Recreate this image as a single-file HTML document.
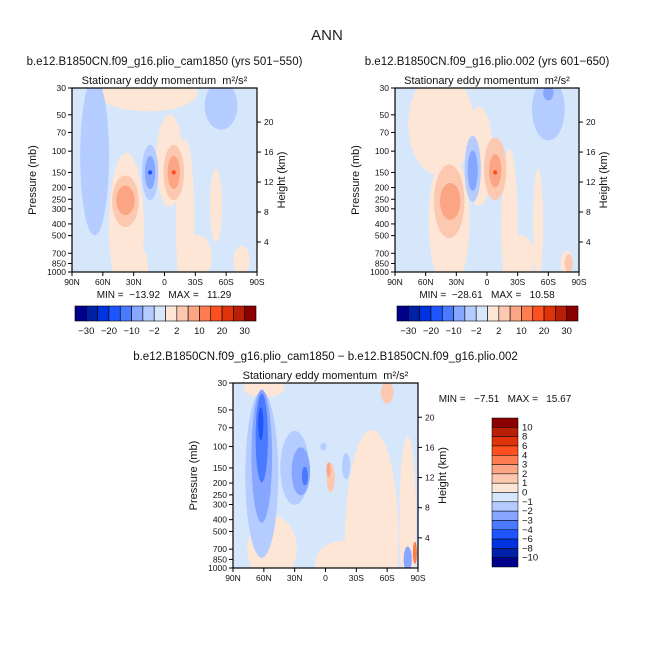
<!DOCTYPE html>
<html><head><meta charset="utf-8">
<style>
body{margin:0;background:#fff;}
svg{display:block;font-family:"Liberation Sans",sans-serif;}
text{white-space:pre;}
</style></head>
<body>
<svg id="s" width="654" height="654" viewBox="0 0 654 654">
<text x="327" y="40" text-anchor="middle" font-size="15" fill="#222">ANN</text>
</svg>
<script>
const palette=['#00008b','#0020a8','#0033e0','#1f55ff','#4a7aff','#86a6ff','#b4ccff','#d6e6fb','#fde6d6','#fcc8b0','#fba585','#fd7d50','#fd4f1f','#e03309','#b81f06','#8b0000'];
const latTicks=[90,60,30,0,-30,-60,-90];
const latLabels=['90N','60N','30N','0','30S','60S','90S'];
const presTicks=[30,50,70,100,150,200,250,300,400,500,700,850,1000];
const kmTicks=[4,8,12,16,20];
const topBarLabels=['-30','-20','-10','-2','2','10','20','30'];
const diffBarLabels=['10','8','6','4','3','2','1','0','-1','-2','-3','-4','-6','-8','-10'];
// blobs: [lat, pressure(mb), half-width(deg), half-height(fraction of axis), colour index]
const blobsA=[[16,33,48,0.1,8],[-5,120,13,0.25,8],[37,420,17,0.4,8],[30,900,14,0.12,8],[-20,380,9,0.45,8],[-50,280,6,0.2,8],[-32,750,14,0.12,8],[-75,800,8,0.08,8],
 [68,110,14,0.43,6],[-55,42,16,0.13,6],[14,150,8,0.15,6],[14,150,5,0.09,5],[14,150,2,0.012,3],
 [38,260,13,0.14,9],[38,255,9,0.08,10],[-9,150,10,0.15,9],[-9,150,6,0.09,10],[-9,150,2,0.012,12]];
const blobsB=[[45,60,32,0.28,8],[37,380,20,0.38,8],[8,110,14,0.27,8],[-22,420,8,0.42,8],[-50,400,5,0.3,8],[-33,760,14,0.12,8],[-78,850,6,0.07,8],
 [-60,45,16,0.17,6],[-60,33,5,0.04,5],[14,140,8,0.18,6],[14,145,5,0.11,5],
 [37,260,15,0.2,9],[36,260,10,0.1,10],[-8,140,11,0.17,9],[-8,145,6,0.09,10],[-8,150,2,0.012,12],[-80,850,4,0.05,9]];
const blobsC=[[-45,600,26,0.6,8],[-20,900,30,0.12,8],[-80,400,8,0.45,8],[52,700,24,0.18,8],[-60,36,6,0.06,9],[-5,180,4,0.08,9],[-3,155,2,0.04,10],[60,33,20,0.05,8],
 [62,170,16,0.45,6],[62,120,10,0.36,5],[62,85,6,0.24,4],[63,65,2.5,0.09,3],
 [30,150,14,0.2,6],[24,160,9,0.13,5],[20,175,3,0.05,4],[-20,145,4,0.07,6],[2,100,3,0.02,6],[-80,850,4,0.07,5],[-87,750,2,0.06,11]];

const svg=document.getElementById('s');
const NS='http://www.w3.org/2000/svg';
function mk(tag,at,parent){const e=document.createElementNS(NS,tag);for(const k in at)e.setAttribute(k,at[k]);(parent||svg).appendChild(e);return e;}
function txt(x,y,s,size,anchor,parent){const t=mk('text',{x:x,y:y,'font-size':size,'text-anchor':anchor||'middle',fill:'#111'},parent);t.textContent=s;return t;}

function panel(name,x0,y0,W,H,blobs,title){
  const g=mk('g',{});
  
  
  const xs=lat=>x0+(90-lat)/180*W;
  const ys=p=>y0+H*Math.log(p/30)/Math.log(1000/30);
  const clipId=name+'-clip';
  const cp=mk('clipPath',{id:clipId},g);mk('rect',{x:x0,y:y0,width:W,height:H},cp);
  const field=mk('g',{'clip-path':'url(#'+clipId+')'},g);
  
  
  mk('rect',{x:x0,y:y0,width:W,height:H,fill:palette[7]},field);
  for(const b of blobs){
    const e=mk('ellipse',{cx:xs(b[0]),cy:ys(b[1]),rx:b[2]/180*W,ry:b[3]*H,fill:palette[b[4]]},field);
    
    
  }
  mk('rect',{x:x0,y:y0,width:W,height:H,fill:'none',stroke:'#000','stroke-width':1.2},g);
  latTicks.forEach((l,i)=>{const x=xs(l);mk('line',{x1:x,x2:x,y1:y0+H,y2:y0+H+4,stroke:'#000'},g);
    const t=txt(x,y0+H+13,latLabels[i],8.5,'middle',g);});
  presTicks.forEach(p=>{const y=ys(p);mk('line',{x1:x0-4,x2:x0,y1:y,y2:y,stroke:'#000'},g);
    const t=txt(x0-6,y+3,String(p),8.5,'end',g);});
  kmTicks.forEach(k=>{const p=1000*Math.exp(-k/7);const y=ys(p);mk('line',{x1:x0+W,x2:x0+W+4,y1:y,y2:y,stroke:'#000'},g);
    const t=txt(x0+W+7,y+3,String(k),8.5,'start',g);});
  const yl=txt(0,0,'Pressure (mb)',11,'middle',g);yl.setAttribute('transform','translate('+(x0-36)+','+(y0+H/2)+') rotate(-90)');
  
  const yr=txt(0,0,'Height (km)',11,'middle',g);yr.setAttribute('transform','translate('+(x0+W+28)+','+(y0+H/2)+') rotate(-90)');
  
  const st=txt(x0+W/2,y0-4,'Stationary eddy momentum  m²/s²',11,'middle',g);
  
  const tt=txt(x0+W/2,y0-23,title,11.5,'middle',g);
  
  return g;
}
function hbar(name,x0,y0,W,H){
  const g=mk('g',{});
  
  
  const bw=W/palette.length;
  palette.forEach((c,i)=>mk('rect',{x:x0+i*bw,y:y0,width:bw,height:H,fill:c,stroke:'#000','stroke-width':0.6},g));
  topBarLabels.forEach((s,i)=>{const t=txt(x0+(2*i+1)*bw,y0+H+13,s.replace('-','−'),9.5,'middle',g);
    });
}
panel('panel-cam1850',72,88,185,184,blobsA,'b.e12.B1850CN.f09_g16.plio_cam1850 (yrs 501−550)');
txt(164,298,'MIN =  −13.92   MAX =   11.29',10,'middle');
hbar('colorbar-left',75,306,181,15);
panel('panel-plio002',395,88,184,184,blobsB,'b.e12.B1850CN.f09_g16.plio.002 (yrs 601−650)');
txt(487,298,'MIN =  −28.61   MAX =   10.58',10,'middle');
hbar('colorbar-right',397,306,181,15);
panel('panel-difference',233,383,185,185,blobsC,'b.e12.B1850CN.f09_g16.plio_cam1850 − b.e12.B1850CN.f09_g16.plio.002');
txt(505,402,'MIN =   −7.51   MAX =   15.67',10,'middle');
(function(){
  const g=mk('g',{});
  
  
  const x0=492,y0=418,W=26,H=149,bh=H/palette.length;
  palette.slice().reverse().forEach((c,i)=>mk('rect',{x:x0,y:y0+i*bh,width:W,height:bh,fill:c,stroke:'#000','stroke-width':0.5},g));
  diffBarLabels.forEach((s,i)=>{const t=txt(x0+W+4,y0+(i+1)*bh+3,s.replace('-','−'),9.5,'start',g);
    });
})();
</script>
</body></html>
